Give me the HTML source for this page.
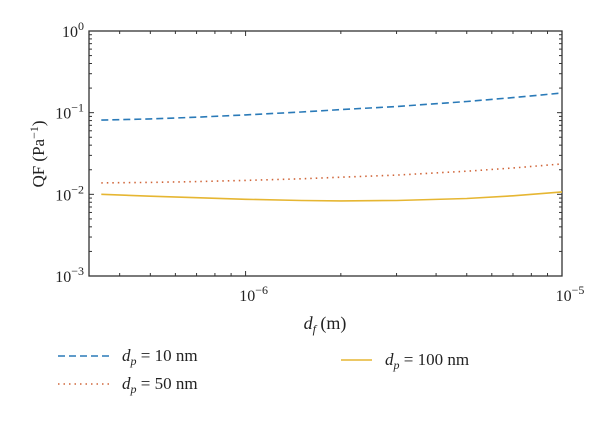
<!DOCTYPE html>
<html><head><meta charset="utf-8"><style>
body{margin:0;background:#fff;}
svg text{font-family:"Liberation Serif",serif;fill:#222;}
</style></head><body>
<svg id="chart" width="600" height="419" xmlns="http://www.w3.org/2000/svg">
<g id="plot"></g>
</svg>
<script>
const xValues=[3.5e-7,5e-7,7e-7,1e-6,1.5e-6,2e-6,3e-6,5e-6,7e-6,1e-5];
const series10=[0.081,0.084,0.088,0.094,0.102,0.109,0.119,0.137,0.153,0.174];
const series50=[0.0138,0.0140,0.0143,0.0148,0.0155,0.0162,0.0172,0.0192,0.0210,0.0236];
const series100=[0.0100,0.0095,0.0091,0.0087,0.0084,0.0083,0.0084,0.0089,0.0096,0.0107];
const yTickExps=[0,-1,-2,-3];
const xTickExps=[-6,-5];

const L=89,R=562,T=31,B=276;
const xMinLog=Math.log10(3.2e-7),xMaxLog=-5;
const yMinLog=-3,yMaxLog=0;
function X(v){return L+(Math.log10(v)-xMinLog)/(xMaxLog-xMinLog)*(R-L);}
function Y(v){return B-(Math.log10(v)-yMinLog)/(yMaxLog-yMinLog)*(B-T);}
const NS="http://www.w3.org/2000/svg";
const g=document.getElementById('plot');
function mk(tag,attrs,parent){const e=document.createElementNS(NS,tag);for(const k in attrs)e.setAttribute(k,attrs[k]);(parent||g).appendChild(e);return e;}

for(let e=-3;e<0;e++){for(let m=1;m<10;m++){const v=m*Math.pow(10,e);const y=Y(v);const len=m===1?5:3;
 const t1=mk('line',{x1:L,x2:L+len,y1:y,y2:y,stroke:'#333','stroke-width':1});
 
 
 const t2=mk('line',{x1:R,x2:R-len,y1:y,y2:y,stroke:'#333','stroke-width':1});
 
 }}
for(let e=-7;e<-5+1;e++){for(let m=1;m<10;m++){const v=m*Math.pow(10,e);if(v<3.2e-7||v>1e-5)continue;const x=X(v);const len=m===1?5:3;
 const t1=mk('line',{x1:x,x2:x,y1:B,y2:B-len,stroke:'#333','stroke-width':1});
 
 
 const t2=mk('line',{x1:x,x2:x,y1:T,y2:T+len,stroke:'#333','stroke-width':1});
 
 }}

const fr=mk('rect',{x:L,y:T,width:R-L,height:B-T,fill:'none',stroke:'#333','stroke-width':1.3});



yTickExps.forEach(e=>{const t=mk('text',{x:L-5,y:Y(Math.pow(10,e))+6,'text-anchor':'end','font-size':16});
 
 
 t.innerHTML='10<tspan dy="-7" font-size="12">'+(e===0?'0':'\u2212'+(-e))+'</tspan>';});
xTickExps.forEach(e=>{const t=mk('text',{x:X(Math.pow(10,e))+8,y:B+25,'text-anchor':'middle','font-size':16});
 
 
 t.innerHTML='10<tspan dy="-7" font-size="12">\u2212'+(-e)+'</tspan>';});

function path(vals){return vals.map((v,i)=>(i?'L':'M')+X(xValues[i]).toFixed(1)+','+Y(v).toFixed(1)).join(' ');}
const s1=mk('path',{d:path(series10),fill:'none',stroke:'#2a7ab8','stroke-width':1.6,'stroke-dasharray':'7,4'});


const s2=mk('path',{d:path(series50),fill:'none',stroke:'#d0663a','stroke-width':1.6,'stroke-dasharray':'1.5,4'});


const s3=mk('path',{d:path(series100),fill:'none',stroke:'#e6b632','stroke-width':1.6});


</script>
<svg style="position:absolute;left:0;top:0" width="600" height="419" xmlns="http://www.w3.org/2000/svg">
<text transform="translate(44,154) rotate(-90)" text-anchor="middle" font-size="17">QF (Pa<tspan dy="-6" font-size="12">−1</tspan><tspan dy="6">)</tspan></text>
<text x="325" y="329" text-anchor="middle" font-size="18"><tspan font-style="italic">d</tspan><tspan font-style="italic" font-size="12" dy="4">f</tspan><tspan dy="-4"> (m)</tspan></text>
<g>
<g>
<line x1="58" y1="356" x2="112" y2="356" stroke="#2a7ab8" stroke-width="1.6" stroke-dasharray="7,4"/>
<text x="122" y="361" font-size="17"><tspan font-style="italic">d</tspan><tspan font-style="italic" font-size="12" dy="4">p</tspan><tspan dy="-4"> = 10 nm</tspan></text></g>
<g>
<line x1="58" y1="384" x2="112" y2="384" stroke="#d0663a" stroke-width="1.6" stroke-dasharray="1.5,4"/>
<text x="122" y="389" font-size="17"><tspan font-style="italic">d</tspan><tspan font-style="italic" font-size="12" dy="4">p</tspan><tspan dy="-4"> = 50 nm</tspan></text></g>
<g>
<line x1="341" y1="360" x2="372" y2="360" stroke="#e6b632" stroke-width="1.6"/>
<text x="385" y="365" font-size="17"><tspan font-style="italic">d</tspan><tspan font-style="italic" font-size="12" dy="4">p</tspan><tspan dy="-4"> = 100 nm</tspan></text></g>
</g>
</svg>
</body></html>
